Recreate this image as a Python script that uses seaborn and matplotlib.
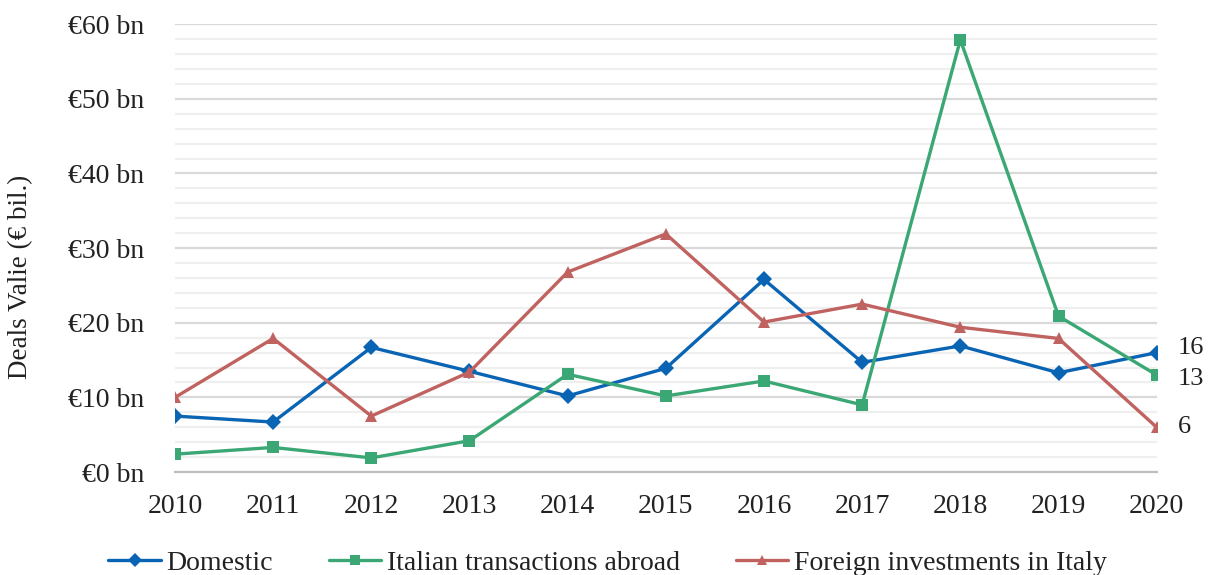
import matplotlib
matplotlib.use("Agg")
import matplotlib.pyplot as plt
from matplotlib.ticker import MultipleLocator, FuncFormatter
import seaborn as sns
import pandas as pd

years = list(range(2010, 2021))
domestic = [7.5, 6.7, 16.7, 13.5, 10.2, 13.9, 25.8, 14.7, 16.9, 13.3, 16]
abroad = [2.4, 3.3, 1.9, 4.2, 13.1, 10.2, 12.2, 9.0, 57.9, 20.9, 13]
foreign = [10.0, 17.9, 7.5, 13.4, 26.8, 31.9, 20.1, 22.5, 19.4, 17.9, 6]
series_names = ["Domestic", "Italian transactions abroad", "Foreign investments in Italy"]
colors = ["#0A64B4", "#3BA774", "#C0625F"]
markers = ["D", "s", "^"]

df = pd.DataFrame({
    "Year": years * 3,
    "Value": domestic + abroad + foreign,
    "Series": [s for s in series_names for _ in years],
})

sns.set_theme(style="white")
plt.rcParams["font.family"] = ["Liberation Serif", "DejaVu Serif"]

fig = plt.figure(figsize=(12.15, 5.75), dpi=100)
ax = fig.add_axes([0.144, 0.179, 0.808, 0.779])

sns.lineplot(data=df, x="Year", y="Value", hue="Series", style="Series",
             hue_order=series_names, style_order=series_names,
             palette=colors, markers=markers, dashes=False,
             linewidth=2.4, markersize=8, markeredgewidth=0, ax=ax, legend=True)

ax.set_xlim(2010, 2020)
ax.set_ylim(0, 60)
ax.yaxis.set_major_locator(MultipleLocator(10))
ax.yaxis.set_minor_locator(MultipleLocator(2))
ax.xaxis.set_major_locator(MultipleLocator(1))
ax.yaxis.set_major_formatter(FuncFormatter(lambda v, p: f"€{int(v)} bn"))
ax.grid(axis="y", which="major", color="#D9D9D9", linewidth=1.6)
ax.grid(axis="y", which="minor", color="#EFEFEF", linewidth=1.6)
ax.set_axisbelow(True)
for s in ["top", "right", "left"]:
    ax.spines[s].set_visible(False)
ax.spines["bottom"].set_color("#BFBFBF")
ax.spines["bottom"].set_linewidth(1.6)
ax.tick_params(axis="both", which="both", length=0, labelsize=20, colors="#222222")
ax.tick_params(axis="x", pad=16)
ax.tick_params(axis="y", pad=22)
ax.set_xlabel("")
ax.set_ylabel("Deals Valie (€ bil.)", fontsize=19.5, color="#222222")
ax.yaxis.set_label_coords(-0.1446, 0.435)

# end-of-line value labels, nudged apart vertically where they sit close
nudges = [3, -3, 0]
for vals, dy in zip([domestic, abroad, foreign], nudges):
    ax.annotate(f"{vals[-1]:.0f}", xy=(years[-1], vals[-1]), xytext=(15, dy),
                textcoords="offset points", va="center", ha="left",
                fontsize=19, color="#222222", annotation_clip=False)

handles, labels = ax.get_legend_handles_labels()
ax.legend_.remove()
for h in handles:
    h.set_markersize(7)
fig.legend(handles, labels, loc="lower center", bbox_to_anchor=(0.5, -0.045),
           ncol=3, frameon=False, fontsize=20, handlelength=1.9,
           columnspacing=2.0, handletextpad=0.2, labelcolor="#222222")

fig.savefig("out.png", dpi=100)
